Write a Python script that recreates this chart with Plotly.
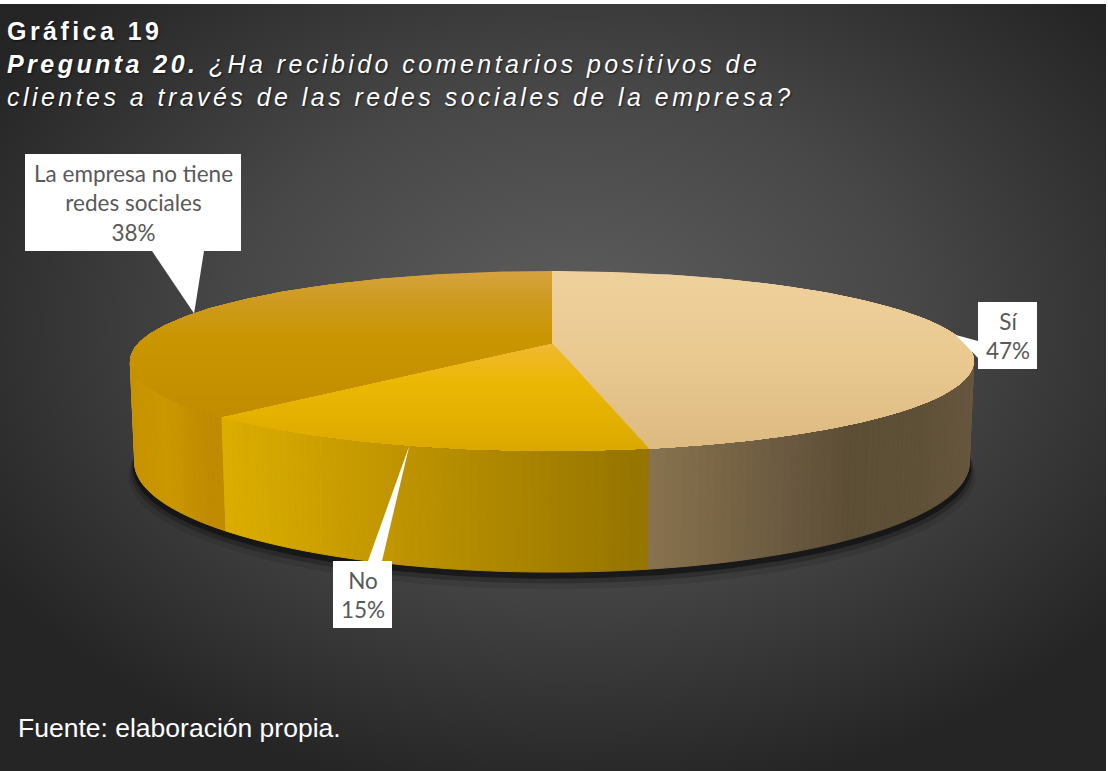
import base64
import math
import textwrap

import numpy as np
import plotly.graph_objects as go

# ---- data -------------------------------------------------------------
categories = ["Sí", "No", "La empresa no tiene redes sociales"]
values = [47, 15, 38]

title_line1 = "Gráfica 19"
title_lead = "Pregunta 20."
title_line2 = "¿Ha recibido comentarios positivos de"
title_line3 = "clientes a través de las redes sociales de la empresa?"
source_note = "Fuente: elaboración propia."

# ---- canvas -----------------------------------------------------------
W, HGT = 1108, 771

# ---- 3-D pie camera (unit radius disc seen in perspective) -------------
CX, CY = 552.0, 343.0
FOCAL = 2021.0
DIST = 4.89
SIN_T = 0.209
COS_T = math.sqrt(1 - SIN_T ** 2)
THICK = 0.2457


def project(theta, elev=0.0, rad=1.0):
    """Angle clockwise from the back of the disc -> screen pixels."""
    t = np.radians(theta)
    X = rad * np.sin(t)
    Z = rad * np.cos(t)
    depth = DIST + COS_T * Z - SIN_T * elev
    up = COS_T * elev + SIN_T * Z
    return CX + FOCAL * X / depth, CY - FOCAL * up / depth


def hex_rgb(h):
    h = h.lstrip("#")
    return [int(h[i:i + 2], 16) for i in (0, 2, 4)]


def ramp(stops, v):
    pos = [s[0] for s in stops]
    cols = np.array([hex_rgb(s[1]) for s in stops], dtype=float)
    rgb = [np.interp(v, pos, cols[:, i]) for i in range(3)]
    return "rgb(%d,%d,%d)" % tuple(int(round(c)) for c in rgb)


def clip_below(pts, yc):
    out = []
    n = len(pts)
    for i in range(n):
        p, q = pts[i], pts[(i + 1) % n]
        pin, qin = p[1] >= yc, q[1] >= yc
        if pin:
            out.append(p)
        if pin != qin:
            t = (yc - p[1]) / (q[1] - p[1])
            out.append((p[0] + t * (q[0] - p[0]), yc))
    return out


# colour ramps: top faces shade by screen y, outer walls by screen x
top_ramps = [
    [(268, "#EFD19D"), (360, "#EAC991"), (455, "#DBB97F")],
    [(343, "#EFB834"), (380, "#ECB806"), (420, "#E4B000"), (455, "#D8A800")],
    [(268, "#D6A344"), (300, "#CE9B20"), (340, "#C99500"), (420, "#C18D00")],
]
wall_ramps = [
    [(630, "#8C7652"), (700, "#7E6A48"), (780, "#6C5B41"), (850, "#5D4E36"),
     (920, "#5F5038"), (975, "#67573E")],
    [(205, "#DEB000"), (300, "#D0A300"), (400, "#BF9400"), (500, "#AE8700"),
     (635, "#977600")],
    [(125, "#C69300"), (165, "#CC9800"), (205, "#C08B00")],
]

total = float(sum(values))
bounds = np.concatenate([[0.0], np.cumsum(values) / total * 360.0])

fig = go.Figure()


def poly(xs, ys, color, lw=0.0):
    fig.add_trace(go.Scatter(
        x=list(xs) + [xs[0]], y=list(ys) + [ys[0]], mode="lines",
        fill="toself", fillcolor=color,
        line=dict(width=lw, color=color),
        hoverinfo="skip", showlegend=False))


# thin soft shadow hugging the base of the disc
ring = np.linspace(0, 360, 241)
for rad, drop, alpha in [(1.016, 0.03, 0.10), (1.010, 0.02, 0.22),
                         (1.005, 0.012, 0.45)]:
    sx, sy = project(ring, -THICK - drop, rad)
    poly(sx, sy, "rgba(0,0,0,%.2f)" % alpha)

# outer walls (front half only)
vis_lo = math.degrees(math.acos(-1.0 / (DIST * COS_T)))
vis_hi = 360.0 - vis_lo
for i in range(len(values)):
    a, b = max(bounds[i], vis_lo), min(bounds[i + 1], vis_hi)
    if a >= b:
        continue
    n = int(math.ceil(b - a))
    edges = np.linspace(a, b, n + 1)
    for t0, t1 in zip(edges[:-1], edges[1:]):
        x0, y0 = project(t0)
        x1, y1 = project(t1)
        x2, y2 = project(t1, -THICK)
        x3, y3 = project(t0, -THICK)
        col = ramp(wall_ramps[i], (x0 + x1) / 2)
        poly([x0, x1, x2, x3], [y0, y1, y2, y3], col, lw=1.0)

# top faces with vertical shading
for i in range(len(values)):
    arc = np.linspace(bounds[i], bounds[i + 1], 120)
    rx, ry = project(arc)
    pts = [(CX, CY)] + list(zip(rx, ry))
    ymin = min(p[1] for p in pts)
    ymax = max(p[1] for p in pts)
    step = 4.0
    yc = ymin - 0.5
    while yc < ymax:
        part = clip_below(pts, yc)
        if len(part) >= 3:
            col = ramp(top_ramps[i], yc + step / 2)
            poly([p[0] for p in part], [p[1] for p in part], col)
        yc += step

# ---- data callouts ----------------------------------------------------
# box (x0, y0, x1, y1) and the two base points of the pointer
callouts = [
    dict(box=(978, 302, 1037, 369), base=((978, 341), (978, 358))),
    dict(box=(333, 561, 392, 628), base=((368, 561), (382, 561))),
    dict(box=(25, 154, 241, 251), base=((152, 251), (204, 251))),
]
shapes = []
annotations = []
for i, c in enumerate(callouts):
    x0, y0, x1, y1 = c["box"]
    mid = (bounds[i] + bounds[i + 1]) / 2
    tx, ty = project(mid)
    (bx0, by0), (bx1, by1) = c["base"]
    shapes.append(dict(type="path", xref="x", yref="y", layer="above",
                       path="M %.1f,%.1f L %.1f,%.1f L %.1f,%.1f Z" % (bx0, by0, float(tx), float(ty), bx1, by1),
                       fillcolor="white", line=dict(width=0)))
    shapes.append(dict(type="rect", xref="x", yref="y", layer="above",
                       x0=x0, x1=x1, y0=y0, y1=y1,
                       fillcolor="white", line=dict(width=0)))
    label = "<br>".join(textwrap.wrap(categories[i], 19)) + "<br>%d%%" % values[i]
    annotations.append(dict(x=(x0 + x1) / 2, y=(y0 + y1) / 2, xref="x", yref="y",
                            text=label, showarrow=False, align="center",
                            xanchor="center", yanchor="middle",
                            font=dict(family="Lato", size=22.5, color="#595959")))

# ---- titles -----------------------------------------------------------
title_font = dict(family="Liberation Sans, Arial", size=25, color="white")
titles = [
    dict(text="<b>%s</b>" % title_line1, y=31),
    dict(text="<b><i>%s</i></b><i> %s</i>" % (title_lead, title_line2), y=64),
    dict(text="<i>%s</i>" % title_line3, y=97),
]
title_anns = [dict(x=5, y=t["y"], xref="x", yref="y", text=t["text"],
                   showarrow=False, xanchor="left", yanchor="middle",
                   align="left", font=title_font) for t in titles]
title_anns.append(dict(x=16, y=728, xref="x", yref="y", text=source_note,
                       showarrow=False, xanchor="left", yanchor="middle",
                       font=dict(family="Liberation Sans, Arial", size=26.5,
                                 color="white")))

# ---- background -------------------------------------------------------
svg = (
    '<svg xmlns="http://www.w3.org/2000/svg" width="1106" height="767" '
    'viewBox="0 0 1106 767" preserveAspectRatio="none">'
    '<defs><radialGradient id="g" cx="0.52" cy="0.42" r="0.62">'
    '<stop offset="0" stop-color="#5e5e5e"/>'
    '<stop offset="0.5" stop-color="#474747"/>'
    '<stop offset="1" stop-color="#252525"/>'
    '</radialGradient></defs>'
    '<rect width="1106" height="767" fill="url(#g)"/></svg>'
)
bg_src = "data:image/svg+xml;base64," + base64.b64encode(svg.encode()).decode()

fig.update_layout(
    width=W, height=HGT, autosize=False,
    margin=dict(l=0, r=0, t=0, b=0, pad=0),
    paper_bgcolor="white", plot_bgcolor="rgba(0,0,0,0)",
    xaxis=dict(range=[0, W], visible=False, fixedrange=True),
    yaxis=dict(range=[HGT, 0], visible=False, fixedrange=True),
    showlegend=False,
    shapes=shapes,
    annotations=title_anns + annotations,
    images=[dict(source=bg_src, xref="paper", yref="paper",
                 x=0, y=1 - 4 / HGT, sizex=1106 / W, sizey=767 / HGT,
                 xanchor="left", yanchor="top", sizing="stretch",
                 layer="below")],
)

# letter spacing and soft shadow for the heading lines
post_js = """
document.body.style.margin = '0';
var gd = document.getElementById('{plot_id}');
gd.querySelectorAll('g.annotation').forEach(function (g) {
  var idx = g.getAttribute('data-index');
  if (idx === '0' || idx === '1' || idx === '2') {
    g.querySelectorAll('text').forEach(function (t) {
      t.style.letterSpacing = '3.45px';
      t.style.textShadow = '1px 1px 2px rgba(0,0,0,0.6)';
    });
  }
});
"""

fig.write_html("out.html", include_plotlyjs=True, full_html=True,
               config={"displayModeBar": False}, post_script=post_js)
